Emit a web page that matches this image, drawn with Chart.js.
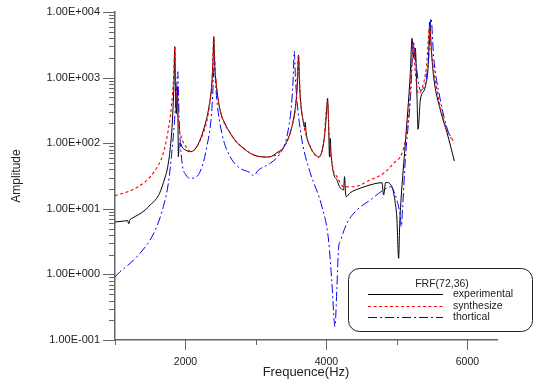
<!DOCTYPE html>
<html>
<head>
<meta charset="utf-8">
<script src="https://cdn.jsdelivr.net/npm/chart.js@4/dist/chart.umd.min.js"></script>
<style>
html,body{margin:0;padding:0;background:#fff;}
canvas{display:block;}
</style>
</head>
<body>
<canvas id="c" width="534" height="387"></canvas>
<script>
// ---------- data ----------
const expFreq = [1000,1100,1180,1195,1210,1241,1330,1430,1500,1572,1630,1668,1710,1739,1770,1786,1805,1820,1838,1848,1858,1870,1885,1893,1899,1910,1923,1960,2008,2065,2130,2207,2270,2325,2374,2392,2402,2412,2435,2491,2560,2634,2720,2818,2920,3013,3131,3202,3300,3386,3460,3510,3550,3571,3592,3604,3615,3628,3675,3690,3699,3710,3770,3860,3890,3959,3990,4005,4016,4030,4044,4054,4065,4101,4149,4186,4243,4257,4270,4281,4338,4480,4669,4788,4811,4840,4930,4977,5000,5024,5040,5058,5119,5190,5214,5240,5261,5285,5300,5332,5403,5450,5464,5490,5521,5616,5712,5815];
const expAmp  = [6.29,6.45,6.6,5.9,6.7,7.16,8.1,9.6,11.5,13.6,17,21.7,30,39,62,88.5,150,286,918,2960,700,280,726,300,62,95,100,85,78,74.2,80,112,180,321,818,2000,4200,1800,827,321,200,143,105,84.5,70,63.8,61.6,62.2,72,84.5,120,179,300,456,1000,2210,1000,512,201,175,210,150,88.5,63.8,61,99.7,200,350,483,200,62,118,70,34.8,27.5,21.7,19.4,30.9,18,15.3,17.6,20.6,23.9,25,16.2,25.3,21.7,12.1,7,1.76,6,13.6,99.7,1160,3970,2000,2820,500,163,456,726,2080,7050,2500,1030,321,143,53.6];

const synFreq = [1000,1241,1430,1572,1668,1739,1800,1834,1848,1862,1880,1905,1952,2023,2070,2130,2189,2250,2307,2350,2378,2402,2418,2435,2491,2634,2818,3013,3131,3202,3386,3510,3571,3604,3625,3675,3770,3888,3959,4016,4040,4100,4149,4243,4385,4622,4811,4953,5072,5119,5170,5200,5229,5260,5308,5360,5420,5464,5490,5521,5663,5815];
const synAmp  = [15.8,19.4,25.9,39,62.2,126,360,1175,2960,800,450,190,115,84,75,80,99.7,140,226,450,918,4200,1500,827,321,143,84.5,63.8,61.6,62.2,84.5,179,456,2210,600,201,88.5,62,99.7,430,120,38,30.9,21.7,21.7,27.5,34.8,49.4,70.2,112,300,1000,3330,1200,576,700,1500,5970,2500,1310,226,99.7];

const thoFreq = [1000,1071,1213,1355,1497,1592,1686,1757,1805,1842,1876,1891,1900,1909,1947,2008,2080,2207,2303,2374,2395,2410,2425,2445,2516,2634,2776,2918,2964,3036,3202,3344,3439,3510,3530,3543,3560,3581,3652,3770,3936,4030,4078,4121,4149,4172,4196,4291,4433,4622,4811,4906,4999,5048,5062,5080,5119,5190,5237,5276,5332,5403,5450,5484,5521,5616,5734,5783];
const thoAmp  = [0.912,1.10,1.47,2.10,3.34,5.34,10.8,24.5,70.2,201,726,1230,600,254,55.5,32.7,29.2,36.8,88.5,321,900,1970,900,456,142,62.2,41.4,35.5,32,39,49.4,70.2,126,456,1100,2540,1000,456,112,35.5,10.8,3.34,0.73,0.16,0.649,2.5,3.2,6.0,9.6,13.6,19.4,21.7,13.6,7.6,5.34,10,55.5,450,3400,1470,647,827,2000,8020,2080,456,142,112];

const seriesNames = ['experimental','synthesize','thortical'];
const legendTitle = 'FRF(72,36)';
const xTickValues = [2000,4000,6000];
const xMinorTicks = [1000,3000,5000];
const yTickValues = [0.1,1,10,100,1000,10000];
const yTickLabels = ['1.00E-001','1.00E+000','1.00E+001','1.00E+002','1.00E+003','1.00E+004'];
const xTitle = 'Frequence(Hz)';
const yTitle = 'Amplitude';

// ---------- chart ----------
const FONT = '"Liberation Sans", Arial, sans-serif';
const AXIS = '#666';
const zip = (fs, as) => fs.map((f,i)=>({x:f, y:as[i]}));

const tickPlugin = {
  id:'ticks',
  afterDraw(chart){
    const ctx = chart.ctx, xs = chart.scales.x, ys = chart.scales.y;
    ctx.save();
    ctx.strokeStyle = AXIS; ctx.lineWidth = 1;
    const L = chart.chartArea.left;
    for (let d = 0; d < yTickValues.length; d++) {
      const v = yTickValues[d];
      const p = Math.round(ys.getPixelForValue(v)) + 0.5;
      ctx.beginPath(); ctx.moveTo(L-12, p); ctx.lineTo(L, p); ctx.stroke();
      if (d < yTickValues.length - 1) {
        for (let m = 2; m <= 9; m++) {
          const q = Math.round(ys.getPixelForValue(v*m)) + 0.5;
          ctx.beginPath(); ctx.moveTo(L-6, q); ctx.lineTo(L, q); ctx.stroke();
        }
      }
    }
    const B = chart.chartArea.bottom;
    xTickValues.forEach(v=>{
      const p = Math.round(xs.getPixelForValue(v)) + 0.5;
      ctx.beginPath(); ctx.moveTo(p, B); ctx.lineTo(p, B+10); ctx.stroke();
    });
    xMinorTicks.forEach(v=>{
      const p = Math.round(xs.getPixelForValue(v)) + 0.5;
      ctx.beginPath(); ctx.moveTo(p, B); ctx.lineTo(p, B+5); ctx.stroke();
    });
    // legend box
    const bx = 348.5, by = 268.5, bw = 184, bh = 63, r = 11;
    ctx.beginPath();
    ctx.moveTo(bx+r, by); ctx.lineTo(bx+bw-r, by); ctx.arcTo(bx+bw, by, bx+bw, by+r, r);
    ctx.lineTo(bx+bw, by+bh-r); ctx.arcTo(bx+bw, by+bh, bx+bw-r, by+bh, r);
    ctx.lineTo(bx+r, by+bh); ctx.arcTo(bx, by+bh, bx, by+bh-r, r);
    ctx.lineTo(bx, by+r); ctx.arcTo(bx, by, bx+r, by, r);
    ctx.closePath();
    ctx.fillStyle = '#fff'; ctx.fill();
    ctx.strokeStyle = '#222'; ctx.lineWidth = 1; ctx.stroke();
    ctx.fillStyle = '#222';
    ctx.font = '10.5px ' + FONT;
    ctx.textAlign = 'center'; ctx.textBaseline = 'middle';
    ctx.fillText(legendTitle, 442, 284);
    const rows = [294.5, 306.5, 317.5];
    ctx.textAlign = 'left';
    chart.data.datasets.forEach((ds,i)=>{
      ctx.save();
      ctx.strokeStyle = ds.borderColor; ctx.lineWidth = ds.borderWidth;
      ctx.setLineDash(ds.borderDash || []);
      ctx.beginPath(); ctx.moveTo(368, rows[i]); ctx.lineTo(443, rows[i]); ctx.stroke();
      ctx.restore();
      ctx.fillStyle = '#222';
      ctx.fillText(ds.label, 453, rows[i]);
    });
    ctx.restore();
  }
};

new Chart(document.getElementById('c'), {
  type:'line',
  data:{
    datasets:[
      {label:seriesNames[0], data:zip(expFreq,expAmp), borderColor:'#000', borderWidth:1, order:3},
      {label:seriesNames[1], data:zip(synFreq,synAmp), borderColor:'#ff0000', borderWidth:1.1, borderDash:[3,2.5], order:1},
      {label:seriesNames[2], data:zip(thoFreq,thoAmp), borderColor:'#0000ff', borderWidth:1, borderDash:[9,3,2,3], order:2}
    ]
  },
  options:{
    responsive:false, animation:false, devicePixelRatio:1,
    elements:{point:{radius:0}, line:{cubicInterpolationMode:'monotone', fill:false}},
    layout:{padding:{left:0, top:12, right:37, bottom:0}},
    plugins:{legend:{display:false}, tooltip:{enabled:false}},
    scales:{
      x:{
        type:'linear', min:1000, max:6420,
        grid:{display:false, drawTicks:false},
        border:{display:true, color:AXIS, width:1.5},
        afterBuildTicks(s){ s.ticks = xTickValues.map(v=>({value:v})); },
        ticks:{color:'#222', font:{family:FONT, size:10.5}, padding:16, maxRotation:0,
               callback:(v)=>String(v)},
        title:{display:true, text:xTitle, color:'#222', font:{family:FONT, size:13, lineHeight:1.2}, padding:{top:0,bottom:7}},
        afterFit(s){ s.height = 47; s.paddingLeft = 0; s.paddingRight = 0; }
      },
      y:{
        type:'logarithmic', min:0.1, max:10000,
        grid:{display:false, drawTicks:false},
        border:{display:true, color:AXIS, width:1.5},
        afterBuildTicks(s){ s.ticks = yTickValues.map(v=>({value:v})); },
        ticks:{color:'#222', font:{family:FONT, size:11}, padding:15,
               callback:(v)=>{ const i = yTickValues.findIndex(t=>Math.abs(Math.log10(t)-Math.log10(v))<1e-6); return i>=0 ? yTickLabels[i] : ''; }},
        title:{display:true, text:yTitle, color:'#222', font:{family:FONT, size:12, lineHeight:1.2}, padding:{top:9,bottom:0}},
        afterFit(s){ s.width = 115; s.paddingTop = 0; s.paddingBottom = 0; }
      }
    }
  },
  plugins:[tickPlugin]
});
</script>
</body>
</html>
